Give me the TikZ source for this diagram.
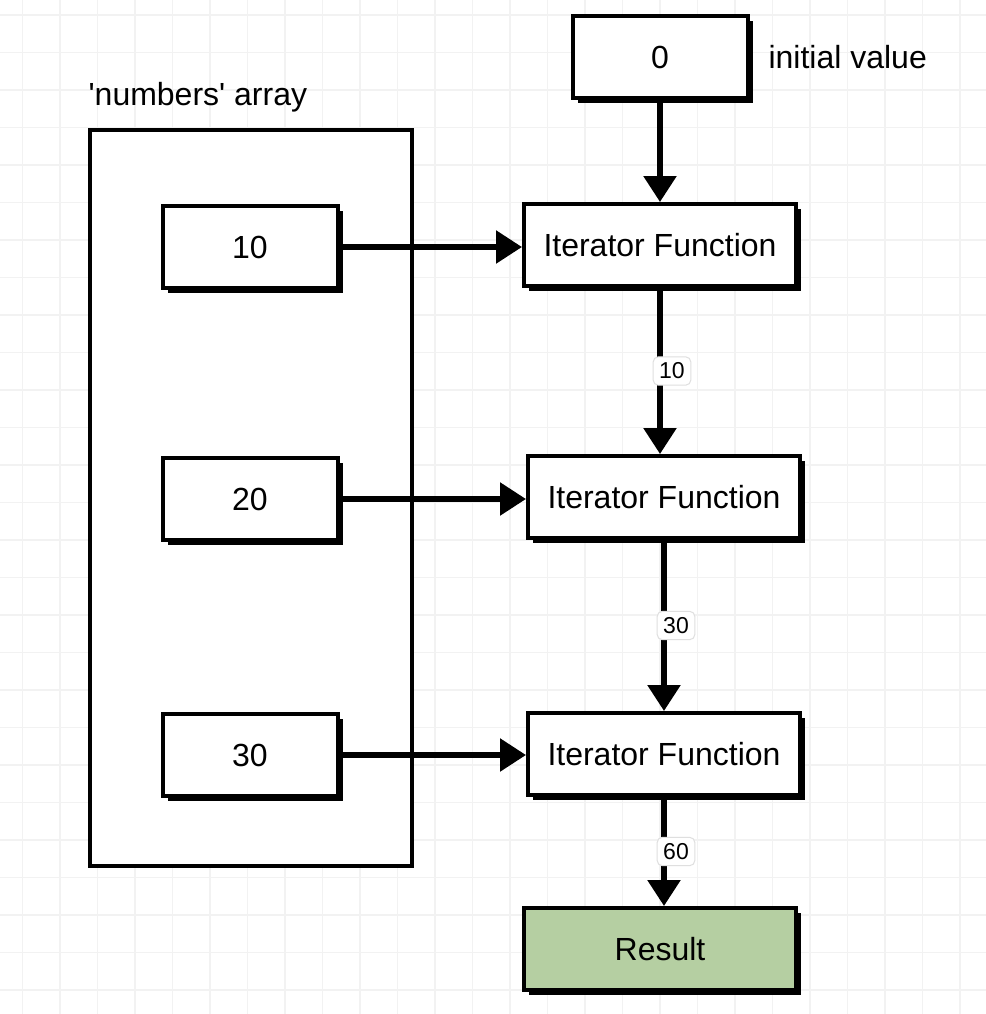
\documentclass[tikz,border=0pt]{standalone}
\usepackage{fontspec}
\setmainfont{Liberation Sans}
\usetikzlibrary{arrows.meta,positioning,calc,shadows}

\begin{document}
\begin{tikzpicture}[x=0.5pt,y=-0.5pt]
  \tikzstyle{box}=[rectangle, draw, line width=2pt, fill=white, minimum width=87.5pt, minimum height=41pt, font=\fontsize{16}{18}\selectfont, drop shadow={shadow xshift=2.5pt, shadow yshift=-2.5pt, opacity=1, fill=black}]
  \tikzstyle{iter}=[box, minimum width=136pt]
  \tikzstyle{result}=[iter, fill={rgb,255:red,181;green,207;blue,162}]
  \tikzstyle{flow}=[line width=2.8pt, -{Triangle[width=16pt,length=13pt]}]
  \tikzstyle{lbl}=[rectangle, draw=gray!25, fill=white, rounded corners=2.5pt, line width=0.5pt, inner sep=3pt, font=\fontsize{11.5}{13}\selectfont]

  % Background grid
  \fill[white] (0,0) rectangle (986,1014);
  \useasboundingbox (0,0) rectangle (986,1014);
  \foreach \x in {0,...,26}
    \draw[gray!10, line width=0.6pt] ({22.5+37.5*\x},0) -- ({22.5+37.5*\x},1014);
  \foreach \y in {0,...,26}
    \draw[gray!10, line width=0.6pt] (0,{15+37.5*\y}) -- (986,{15+37.5*\y});

  % Array container
  \node[rectangle, draw, line width=1.8pt, fill=white, minimum width=161pt, minimum height=368pt] (arr) at (251,498) {};
  \node[anchor=south west, inner sep=0pt, font=\fontsize{16}{18}\selectfont] (arrlbl) at ($(arr.north west)+(0,-16)$) {\textquotesingle numbers\textquotesingle{} array};

  \node[box] (n10) at (250,247) {10};
  \node[box] (n20) at (250,499) {20};
  \node[box] (n30) at (250,755) {30};

  % Reduce chain
  \node[box] (init) at (660,57) {0};
  \node[right=6pt of init, font=\fontsize{16}{18}\selectfont] (initlbl) {initial value};
  \node[iter] (it1) at (660,245) {Iterator Function};
  \node[iter] (it2) at (664,497) {Iterator Function};
  \node[iter] (it3) at (664,754) {Iterator Function};
  \node[result] (res) at (660,949) {Result};

  \draw[flow] (init) -- (it1);
  \draw[flow] (it1.south) -- node[lbl, xshift=6pt] {10} (it1.south |- it2.north);
  \draw[flow] (it2.south) -- node[lbl, xshift=6pt] {30} (it2.south |- it3.north);
  \draw[flow] (it3.south) -- node[lbl, xshift=6pt] {60} (it3.south |- res.north);

  % Array items into iterator
  \draw[flow] (n10) -- (n10 -| it1.west);
  \draw[flow] (n20) -- (n20 -| it2.west);
  \draw[flow] (n30) -- (n30 -| it3.west);
\end{tikzpicture}
\end{document}
